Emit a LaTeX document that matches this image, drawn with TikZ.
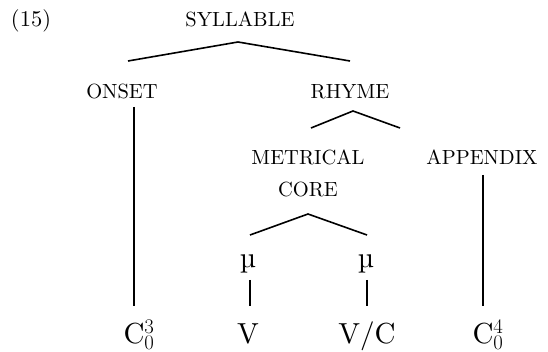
\documentclass[tikz,border=0pt]{standalone}
\usepackage{fontspec}
\setmainfont{lmroman10-regular.otf}
\begin{document}
\begin{tikzpicture}[x=1pt,y=-1pt,
  lab/.style={anchor=base,inner sep=0pt,font=\fontsize{20.5}{24}\selectfont},
  big/.style={anchor=base,inner sep=0pt,font=\fontsize{29}{34}\selectfont},
  num/.style={anchor=base,inner sep=0pt,font=\fontsize{22.5}{27}\selectfont},
  branch/.style={line width=1.6pt},
  stem/.style={line width=1.9pt}]
\useasboundingbox (0,0) rectangle (548,352);
\node[num] (ex) at (31,27) {(15)};
\node[lab] (syl) at (240,27) {SYLLABLE};
\node[lab] (ons) at (122,99) {ONSET};
\node[lab] (rhy) at (350,99) {RHYME};
\node[lab] (met) at (308,165) {METRICAL};
\node[lab] (core) at (308,197) {CORE};
\node[lab] (app) at (482,165) {APPENDIX};
\node[big] (mu1) at (248,268) {µ};
\node[big] (mu2) at (366,268) {µ};
\node[big] (c3) at (139,343) {C$_0^3$};
\node[big] (v) at (248,343) {V};
\node[big] (vc) at (367,343) {V/C};
\node[big] (c4) at (488,343) {C$_0^4$};
% branch points
\coordinate (s0) at (238,42); \coordinate (s1) at (128,61); \coordinate (s2) at (350,61);
\coordinate (r0) at (353,111); \coordinate (r1) at (311,128); \coordinate (r2) at (400,128);
\coordinate (k0) at (308,214); \coordinate (k1) at (250,235); \coordinate (k2) at (367,235);
\coordinate (o1) at (134,107); \coordinate (o2) at (134,306);
\coordinate (a1) at (483,175); \coordinate (a2) at (483,306);
\coordinate (m1) at (250,280); \coordinate (m2) at (250,306);
\coordinate (n1) at (367,280); \coordinate (n2) at (367,306);
\draw[branch] (s1) -- (s0) -- (s2);
\draw[branch] (r1) -- (r0) -- (r2);
\draw[branch] (k1) -- (k0) -- (k2);
\draw[stem] (o1) -- (o2);
\draw[stem] (a1) -- (a2);
\draw[stem] (m1) -- (m2);
\draw[stem] (n1) -- (n2);
\end{tikzpicture}
\end{document}
